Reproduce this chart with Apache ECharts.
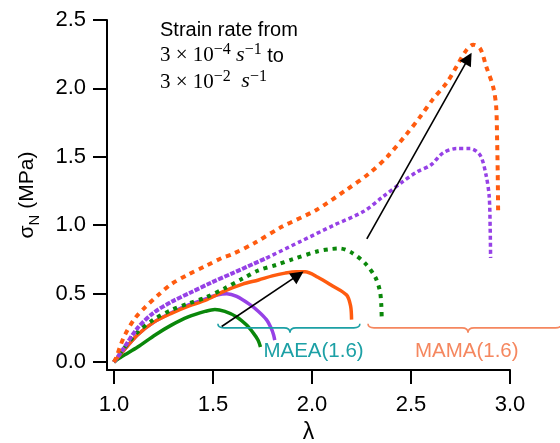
<!DOCTYPE html>
<html><head><meta charset="utf-8">
<script src="https://cdn.jsdelivr.net/npm/echarts@6/dist/echarts.min.js"></script>
<style>html,body{margin:0;padding:0;background:#fff}#c{width:560px;height:443px}</style>
</head><body><div id="c"></div>
<script>
// ---- data (lambda, sigma_N in MPa) ----
const xTicks = [1.0, 1.5, 2.0, 2.5, 3.0];
const yTicks = [0.0, 0.5, 1.0, 1.5, 2.0, 2.5];

// MAEA(1.6) – solid curves
const maeaLow = [[1,0],[1.04,0.04],[1.12,0.11],[1.21,0.2],[1.29,0.27],[1.375,0.33],[1.46,0.37],[1.51,0.385],[1.56,0.37],[1.62,0.33],[1.67,0.27],[1.705,0.21],[1.728,0.16],[1.74,0.11]];
const maeaMid = [[1,0],[1.04,0.07],[1.12,0.2],[1.2,0.29],[1.29,0.36],[1.38,0.42],[1.46,0.46],[1.52,0.49],[1.57,0.5],[1.62,0.48],[1.687,0.42],[1.73,0.37],[1.77,0.31],[1.793,0.25],[1.806,0.2],[1.812,0.16]];
const maeaHigh = [[1,0],[1.04,0.07],[1.12,0.2],[1.2,0.29],[1.29,0.356],[1.38,0.41],[1.46,0.45],[1.56,0.52],[1.65,0.57],[1.73,0.6],[1.8,0.63],[1.864,0.65],[1.92,0.66],[1.965,0.66],[2.03,0.62],[2.1,0.56],[2.175,0.49],[2.195,0.41],[2.2,0.31]];

// MAMA(1.6) – dotted curves
const mamaLow = [[1,0],[1.04,0.08],[1.12,0.22],[1.2,0.31],[1.29,0.38],[1.38,0.43],[1.46,0.47],[1.56,0.54],[1.65,0.61],[1.73,0.67],[1.82,0.71],[1.9,0.75],[2.03,0.81],[2.09,0.825],[2.14,0.83],[2.2,0.8],[2.27,0.72],[2.32,0.62],[2.343,0.52],[2.35,0.42],[2.352,0.33]];
const mamaMid = [[1,0],[1.04,0.08],[1.12,0.25],[1.2,0.36],[1.29,0.44],[1.39,0.51],[1.49,0.58],[1.6,0.65],[1.77,0.76],[1.94,0.88],[2.11,1.0],[2.26,1.1],[2.36,1.21],[2.46,1.32],[2.53,1.39],[2.6,1.44],[2.663,1.53],[2.73,1.56],[2.8,1.56],[2.85,1.51],[2.88,1.36],[2.895,1.21],[2.9,0.97],[2.902,0.76]];
const mamaHigh = [[1,0],[1.014,0.04],[1.03,0.11],[1.056,0.2],[1.106,0.32],[1.157,0.4],[1.224,0.49],[1.29,0.57],[1.375,0.64],[1.46,0.7],[1.544,0.76],[1.6,0.79],[1.71,0.87],[1.85,0.99],[2.02,1.11],[2.175,1.26],[2.29,1.38],[2.38,1.5],[2.48,1.67],[2.545,1.79],[2.61,1.92],[2.68,2.04],[2.73,2.16],[2.78,2.28],[2.815,2.32],[2.85,2.29],[2.88,2.16],[2.915,2.01],[2.93,1.87],[2.935,1.62],[2.938,1.38],[2.94,1.1]];

// annotation arrows (data coords: start, end)
const arrows = [
  [[1.544,0.26],[1.93,0.635]],
  [[2.277,0.9],[2.79,2.22]]
];
// braces: [from, to, tip, y]
const braces = [[1.525,2.242,1.889,0.25],[2.283,3.26,2.788,0.25]];
const braceLabels = ['MAEA(1.6)','MAMA(1.6)'];
const braceLabelPos = [[1.755,0.08],[2.52,0.08]];

// ---- styling ----
const C_GREEN='#0A870A', C_PURPLE='#9641E6', C_ORANGE='#FF5B0F';
const C_TEAL='#1CA0A5', C_LORANGE='#F5875F';
const braceColors=[C_TEAL, C_LORANGE];

const chart = echarts.init(document.getElementById('c'), null, {renderer:'canvas'});

function solid(name, data, color){
  return {name, type:'line', data, showSymbol:false, smooth:0.3, silent:true,
    lineStyle:{color, width:3.5}, z:2};
}
function dotted(name, data, color, dash, width){
  return {name, type:'line', data, showSymbol:false, smooth:0.3, silent:true,
    lineStyle:{color, width:width, type:dash}, z:3};
}
// the purple dotted trace has dense markers at small strain: draw that part tighter
const splitAt = mamaMid.findIndex(p=>p[0]>=1.77);
const mamaMidEarly = mamaMid.slice(0, splitAt+1);
const mamaMidLate = mamaMid.slice(splitAt);

const option = {
  animation:false,
  backgroundColor:'#fff',
  grid:{left:107, right:50, top:20, bottom:73, outerBoundsMode:'none', containLabel:false},
  xAxis:{
    type:'value', min:0.965, max:3.0,
    name:'λ', nameLocation:'middle', nameGap:49,
    nameTextStyle:{fontFamily:'Liberation Sans', fontSize:23, color:'#000'},
    axisLine:{show:true, onZero:false, lineStyle:{color:'#000', width:2}},
    axisTick:{show:true, inside:false, length:14, lineStyle:{color:'#000', width:2}, customValues:xTicks},
    axisLabel:{customValues:xTicks, margin:24, fontFamily:'Liberation Sans', fontSize:22, color:'#000',
      formatter:v=>v.toFixed(1)},
    splitLine:{show:false}
  },
  yAxis:{
    type:'value', min:-0.058, max:2.5,
    name:'{a|σ}{s|N}{a| (MPa)}', nameLocation:'middle', nameGap:68,
    nameTextStyle:{fontFamily:'Liberation Sans', fontSize:21, color:'#000',
      rich:{
        a:{fontFamily:'Liberation Sans', fontSize:21, color:'#000', lineHeight:22, verticalAlign:'top'},
        s:{fontFamily:'Liberation Sans', fontSize:15, color:'#000', lineHeight:15, padding:[10,0,0,0], verticalAlign:'top'}
      }},
    axisLine:{show:true, onZero:false, lineStyle:{color:'#000', width:2}},
    axisTick:{show:true, inside:false, length:14, lineStyle:{color:'#000', width:2}, customValues:yTicks},
    axisLabel:{customValues:yTicks, margin:21, fontFamily:'Liberation Sans', fontSize:22, color:'#000',
      formatter:v=>v.toFixed(1)},
    splitLine:{show:false}
  },
  series:[
    solid('MAEA mid', maeaMid, C_PURPLE),
    solid('MAEA low', maeaLow, C_GREEN),
    solid('MAEA high', maeaHigh, C_ORANGE),
    dotted('MAMA low', mamaLow, C_GREEN, [4,5], 4),
    dotted('MAMA mid a', mamaMidEarly, C_PURPLE, [5,1.5], 4),
    dotted('MAMA mid b', mamaMidLate, C_PURPLE, [4,3], 3.5),
    dotted('MAMA high', mamaHigh, C_ORANGE, [5,5], 4),
    {
      type:'custom', name:'braces', data:braces, clip:false, silent:true, z:4,
      renderItem:(params, api)=>{
        const y=api.value(3);
        const p1=api.coord([api.value(0),y]);
        const p2=api.coord([api.value(1),y]);
        const pt=api.coord([api.value(2),y]);
        const r=6, up=4, down=5;
        const d=`M${p1[0]},${p1[1]-up} Q${p1[0]},${p1[1]} ${p1[0]+r},${p1[1]} L${pt[0]-r},${pt[1]} Q${pt[0]},${pt[1]} ${pt[0]},${pt[1]+down} Q${pt[0]},${pt[1]} ${pt[0]+r},${pt[1]} L${p2[0]-r},${p2[1]} Q${p2[0]},${p2[1]} ${p2[0]},${p2[1]-up}`;
        const i=params.dataIndex;
        const lp=api.coord(braceLabelPos[i]);
        return {type:'group', children:[
          {type:'path', shape:{pathData:d}, style:{stroke:braceColors[i], lineWidth:1.6, fill:null}},
          {type:'text', x:lp[0], y:lp[1], style:{text:braceLabels[i], fill:braceColors[i],
            fontFamily:'Liberation Sans', fontSize:20.5, align:'left', verticalAlign:'middle'}}
        ]};
      }
    },
    {
      type:'lines', coordinateSystem:'cartesian2d', polyline:false, silent:true, z:5,
      symbol:['none','triangle'], symbolSize:13,
      lineStyle:{color:'#000', width:1.6, opacity:1, curveness:0},
      data:arrows.map(a=>({coords:a}))
    }
  ],
  graphic:[
    {type:'text', x:160, y:30, silent:true, style:{text:'Strain rate from', fill:'#000',
      fontFamily:'Liberation Sans', fontSize:20, verticalAlign:'middle', align:'left'}},
    {type:'text', x:160, y:42, silent:true, style:{
      text:'{n|3 × 10}{p|−4}{n| }{i|s}{p|−1}{t| to}', verticalAlign:'top', align:'left',
      rich:{
        n:{fontFamily:'Liberation Serif', fontSize:21, fill:'#000', lineHeight:24, verticalAlign:'bottom'},
        i:{fontFamily:'Liberation Serif', fontStyle:'italic', fontSize:22, fill:'#000', lineHeight:24, verticalAlign:'bottom'},
        p:{fontFamily:'Liberation Serif', fontSize:16, fill:'#000', lineHeight:17, verticalAlign:'top'},
        t:{fontFamily:'Liberation Sans', fontSize:20, fill:'#000', lineHeight:24, verticalAlign:'bottom'}
      }}},
    {type:'text', x:160, y:68.5, silent:true, style:{
      text:'{n|3 × 10}{p|−2}{n|  }{i|s}{p|−1}', verticalAlign:'top', align:'left',
      rich:{
        n:{fontFamily:'Liberation Serif', fontSize:21, fill:'#000', lineHeight:24, verticalAlign:'bottom'},
        i:{fontFamily:'Liberation Serif', fontStyle:'italic', fontSize:22, fill:'#000', lineHeight:24, verticalAlign:'bottom'},
        p:{fontFamily:'Liberation Serif', fontSize:16, fill:'#000', lineHeight:17, verticalAlign:'top'}
      }}}
  ]
};
chart.setOption(option);
</script>
</body></html>
